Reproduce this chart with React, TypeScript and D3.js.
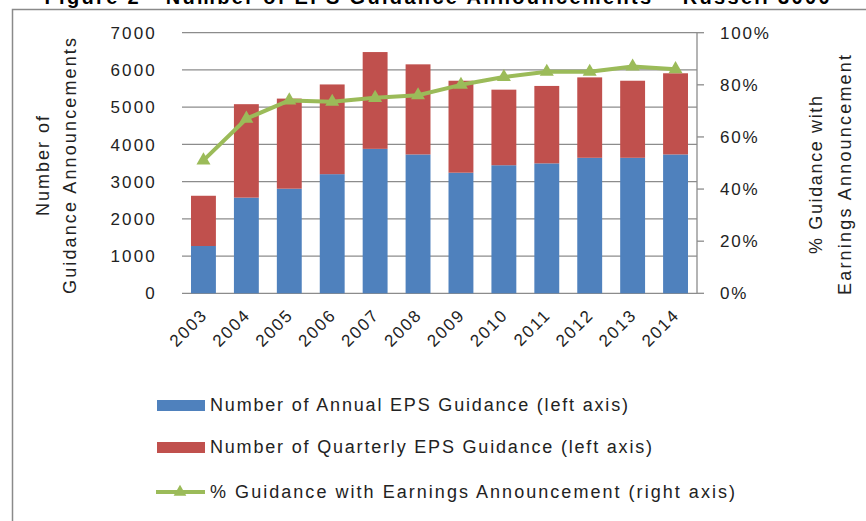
import React, { useEffect, useRef } from 'react';
import * as d3 from 'd3';

const years = ['2003', '2004', '2005', '2006', '2007', '2008', '2009', '2010', '2011', '2012', '2013', '2014'];
const annualGuidance = [1270, 2570, 2810, 3200, 3880, 3730, 3240, 3440, 3490, 3640, 3640, 3730];
const quarterlyGuidance = [1350, 2510, 2420, 2410, 2600, 2420, 2470, 2030, 2080, 2160, 2070, 2180];
const pctWithEarnings = [0.51, 0.67, 0.74, 0.735, 0.75, 0.76, 0.8, 0.83, 0.85, 0.85, 0.87, 0.86];
const leftTicks = [0, 1000, 2000, 3000, 4000, 5000, 6000, 7000];
const rightTicks = [0, 0.2, 0.4, 0.6, 0.8, 1];
const legendLabels = [
  'Number of Annual EPS Guidance (left axis)',
  'Number of Quarterly EPS Guidance (left axis)',
  '% Guidance with Earnings Announcement (right axis)',
];

const BLUE = '#4F81BD';
const RED = '#C0504D';
const GREEN = '#9BBB59';
const GRID = '#8c8c8c';
const FONT = "'Liberation Sans', Arial, sans-serif";

const App = () => {
  const svgRef = useRef(null);

  useEffect(() => {
    const width = 866;
    const height = 521;
    const plot = { left: 182, right: 697, top: 32.7, bottom: 293.3 };

    const svg = d3.select(svgRef.current);
    svg.selectAll('*').remove();
    svg.attr('width', width).attr('height', height);

    svg.append('rect').attr('width', width).attr('height', height).attr('fill', '#fff');

    // Title, cut off by the top edge as in the source image
    svg.append('text')
      .attr('x', 437)
      .attr('y', 4)
      .attr('text-anchor', 'middle')
      .attr('font-family', FONT)
      .attr('font-size', 20)
      .attr('font-weight', 'bold')
      .attr('textLength', 785)
      .attr('lengthAdjust', 'spacing')
      .text('Figure 2 - Number of EPS Guidance Announcements \u2013 Russell 3000');

    // Frame
    svg.append('rect')
      .attr('x', 12.5)
      .attr('y', 9.5)
      .attr('width', 1000)
      .attr('height', 700)
      .attr('fill', 'none')
      .attr('stroke', '#8a8a8a')
      .attr('stroke-width', 1.5);

    const x = d3.scaleBand()
      .domain(years)
      .range([plot.left, plot.right])
      .paddingInner(0.42)
      .paddingOuter(0.21);

    const yLeft = d3.scaleLinear().domain([0, 7000]).range([plot.bottom, plot.top]);
    const yRight = d3.scaleLinear().domain([0, 1]).range([plot.bottom, plot.top]);

    // Gridlines
    svg.append('g')
      .selectAll('line')
      .data(leftTicks)
      .join('line')
      .attr('x1', plot.left)
      .attr('x2', plot.right)
      .attr('y1', d => yLeft(d))
      .attr('y2', d => yLeft(d))
      .attr('stroke', GRID)
      .attr('stroke-width', 1.3);

    // Left tick labels
    svg.append('g')
      .selectAll('text')
      .data(leftTicks)
      .join('text')
      .attr('x', 157)
      .attr('y', d => yLeft(d))
      .attr('dy', '0.36em')
      .attr('text-anchor', 'end')
      .attr('font-family', FONT)
      .attr('font-size', 17)
      .attr('letter-spacing', 2.2)
      .attr('fill', '#222')
      .text(d => d);

    // Right axis
    svg.append('line')
      .attr('x1', plot.right)
      .attr('x2', plot.right)
      .attr('y1', plot.top)
      .attr('y2', plot.bottom)
      .attr('stroke', GRID)
      .attr('stroke-width', 1.3);

    svg.append('g')
      .selectAll('line')
      .data(rightTicks)
      .join('line')
      .attr('x1', plot.right)
      .attr('x2', plot.right + 7)
      .attr('y1', d => yRight(d))
      .attr('y2', d => yRight(d))
      .attr('stroke', GRID)
      .attr('stroke-width', 1.3);

    svg.append('g')
      .selectAll('text')
      .data(rightTicks)
      .join('text')
      .attr('x', 720)
      .attr('y', d => yRight(d))
      .attr('dy', '0.36em')
      .attr('font-family', FONT)
      .attr('font-size', 17)
      .attr('letter-spacing', 1.8)
      .attr('fill', '#222')
      .text(d => d3.format('.0%')(d));

    // Stacked bars
    const bars = svg.append('g');
    bars.selectAll('.annual')
      .data(years)
      .join('rect')
      .attr('class', 'annual')
      .attr('x', d => x(d))
      .attr('width', x.bandwidth())
      .attr('y', (d, i) => yLeft(annualGuidance[i]))
      .attr('height', (d, i) => yLeft(0) - yLeft(annualGuidance[i]))
      .attr('fill', BLUE);

    bars.selectAll('.quarterly')
      .data(years)
      .join('rect')
      .attr('class', 'quarterly')
      .attr('x', d => x(d))
      .attr('width', x.bandwidth())
      .attr('y', (d, i) => yLeft(annualGuidance[i] + quarterlyGuidance[i]))
      .attr('height', (d, i) => yLeft(annualGuidance[i]) - yLeft(annualGuidance[i] + quarterlyGuidance[i]))
      .attr('fill', RED);

    // Line with triangle markers
    const cx = d => x(d) + x.bandwidth() / 2;
    const line = d3.line()
      .x((d, i) => cx(years[i]))
      .y(d => yRight(d));

    svg.append('path')
      .datum(pctWithEarnings)
      .attr('d', line)
      .attr('fill', 'none')
      .attr('stroke', GREEN)
      .attr('stroke-width', 4)
      .attr('stroke-linejoin', 'round');

    const tri = d3.symbol().type(d3.symbolTriangle).size(85);
    svg.append('g')
      .selectAll('path')
      .data(pctWithEarnings)
      .join('path')
      .attr('d', tri)
      .attr('transform', (d, i) => `translate(${cx(years[i])},${yRight(d)})`)
      .attr('fill', GREEN);

    // Year labels
    svg.append('g')
      .selectAll('text')
      .data(years)
      .join('text')
      .attr('transform', d => `translate(${cx(d) + 5},${316}) rotate(-45)`)
      .attr('text-anchor', 'end')
      .attr('font-family', FONT)
      .attr('font-size', 17)
      .attr('letter-spacing', 1.8)
      .attr('fill', '#222')
      .text(d => d);

    // Axis titles
    const titleStyle = sel => sel
      .attr('text-anchor', 'middle')
      .attr('font-family', FONT)
      .attr('font-size', 18)
      .attr('fill', '#222')
      .attr('lengthAdjust', 'spacing');

    const leftTitle = svg.append('g').attr('transform', 'translate(0,166) rotate(-90)');
    leftTitle.append('text').call(titleStyle).attr('x', 0).attr('y', 49).attr('textLength', 100).text('Number of');
    leftTitle.append('text').call(titleStyle).attr('x', 0).attr('y', 76).attr('textLength', 256).text('Guidance Announcements');

    const rightTitle = svg.append('g').attr('transform', 'translate(0,175) rotate(-90)');
    rightTitle.append('text').call(titleStyle).attr('x', 0).attr('y', 822).attr('textLength', 158).text('% Guidance with');
    rightTitle.append('text').call(titleStyle).attr('x', 0).attr('y', 851).attr('textLength', 240).text('Earnings Announcement');

    // Legend
    const legendY = [405, 447, 492];
    const legendWidths = [418, 442, 525];
    const legend = svg.append('g');
    legend.append('rect').attr('x', 157).attr('y', legendY[0] - 5).attr('width', 48).attr('height', 11).attr('fill', BLUE);
    legend.append('rect').attr('x', 157).attr('y', legendY[1] - 5).attr('width', 48).attr('height', 11).attr('fill', RED);
    legend.append('line')
      .attr('x1', 156).attr('x2', 205)
      .attr('y1', legendY[2]).attr('y2', legendY[2])
      .attr('stroke', GREEN).attr('stroke-width', 4);
    legend.append('path')
      .attr('d', d3.symbol().type(d3.symbolTriangle).size(70))
      .attr('transform', `translate(180,${legendY[2]})`)
      .attr('fill', GREEN);

    legend.selectAll('.legend-label')
      .data(legendLabels)
      .join('text')
      .attr('class', 'legend-label')
      .attr('x', 210)
      .attr('y', (d, i) => legendY[i])
      .attr('dy', '0.36em')
      .attr('font-family', FONT)
      .attr('font-size', 18)
      .attr('textLength', (d, i) => legendWidths[i])
      .attr('lengthAdjust', 'spacing')
      .attr('fill', '#222')
      .text(d => d);
  });

  return (
    <svg ref={svgRef} style={{ position: 'absolute', left: 0, top: 0, display: 'block' }}></svg>
  );
};

export default App;
